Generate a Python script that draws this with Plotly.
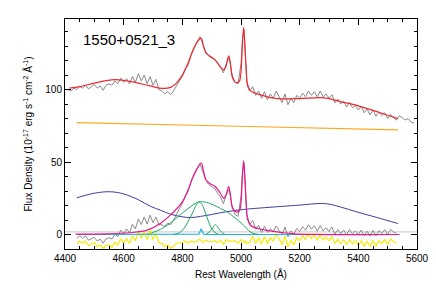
import plotly.graph_objects as go

# ---------------- data ----------------
# observed spectrum (upper panel)
data_wave = [4410,4420,4430,4440,4450,4460,4470,4480,4490,4500,4510,4520,4530,4540,4550,4560,4570,4580,4590,4600,
             4610,4620,4630,4640,4650,4660,4670,4680,4690,4700,4710,4720,4730,4740,4750,4760,4770,4780,4790,4800,
             4810,4820,4830,4840,4850,4860,4870,4880,4890,4900,4910,4920,4930,4940,4950,4960,4970,4980,4990,5000,
             5005,5010,5015,5020,5030,5040,5050,5060,5070,5080,5090,5100,5110,5120,5130,5140,5150,5160,5170,5180,
             5190,5200,5210,5220,5230,5240,5250,5260,5270,5280,5290,5300,5310,5320,5330,5340,5350,5360,5370,5380,
             5390,5400,5410,5420,5430,5440,5450,5460,5470,5480,5490,5500,5510,5520,5530,5540,5550,5560,5570,5580,5590]
data_flux = [100,99,101,100,102,101,103,100.5,102,103.5,101,102.5,99.5,103,104,103,106,104,108,105,
             107.5,104,109,105,111,106,110,104,109,103,107,100,99,97,98.5,96.5,99,103,106,109,
             114,117,124,128,133,136.5,131,126,123,122,121,118,116,111.5,118,122,110,105,104,118,
             135,141,122,106,99,102,96,99,94,98.5,93,97,94,99,95,91,97,89.5,94,91,
             96,94,97.5,95,99,96,98.5,95,99,95,97,94,96.5,91,93.5,90,92,88,91,87.5,
             89,86,88.5,84,86.5,82.5,86,81.5,84.5,82,84,80,83,80.5,79,82,80.5,79,80,77.5,77]

# total model (red)
model_wave = [4415,4450,4500,4570,4630,4690,4735,4760,4780,4800,4820,4840,4855,4864,4872,4880,4895,4915,4930,4940,
              4948,4953,4958,4963,4970,4978,4987,4995,5000,5004,5009,5014,5018,5022,5030,5045,5066,5100,5134,5200,
              5270,5300,5340,5400,5452,5500,5535]
model_flux = [101,102,104.5,106.8,105.3,102.5,100.8,101.5,104.5,110,118.5,129,134,135.5,130,125.5,123,119.8,115.5,113.6,
              115.5,120,123.3,119,109,105.5,104.8,106,112,128,143,128,112,103,99.5,97.8,96.3,94.5,93.6,93.8,
              94.5,93.8,91.7,88.8,85.5,82.3,80]

# power-law continuum (orange)
cont_wave = [4440, 4990, 5535]
cont_flux = [77.2, 74.7, 72.2]

# Fe II template (navy)
fe_wave = [4440,4500,4555,4600,4650,4691,4725,4760,4800,4830,4862,4900,4930,4970,5009,5060,5145,5200,5270,5300,5339,5395,5464,5535]
fe_flux = [25.3,28.5,29.5,28,24,19.5,16.8,14,12.2,11.7,12.5,13.8,15,16.3,17.3,18.2,19.5,20.3,21.4,21,19,15.6,11.7,7.6]

# continuum-subtracted spectrum (lower panel, gray)
line_wave = [4440,4450,4460,4470,4480,4490,4500,4510,4520,4530,4540,4550,4560,4570,4580,4590,4600,4610,4620,4630,
             4640,4650,4660,4670,4680,4690,4700,4710,4720,4730,4740,4750,4760,4770,4780,4790,4800,4810,4820,4830,
             4840,4850,4860,4870,4880,4890,4900,4910,4920,4930,4940,4950,4960,4970,4980,4990,5000,5005,5010,5015,
             5020,5030,5040,5050,5060,5070,5080,5090,5100,5110,5120,5130,5140,5150,5160,5170,5180,5190,5200,5210,
             5220,5230,5240,5250,5260,5270,5280,5290,5300,5310,5320,5330,5340,5350,5360,5370,5380,5390,5400,5410,
             5420,5430,5440,5450,5460,5470,5480,5490,5500,5510,5520,5530]
line_flux = [-2.5,-1.0,-2.5,-1.0,-3.9,-3.0,-1.9,-4.6,-3.2,-6.0,-3.0,-2.2,-3.1,0.3,-1.4,3.1,0.5,3.9,1.2,7.1,
             3.9,10.8,6.9,12.1,7.2,13.4,8.2,12.0,6.9,6.7,5.6,7.9,6.8,9.8,14.3,17.8,21.2,26.5,29.6,36.9,
             40.7,45.6,48.8,43.1,37.8,34.5,33.1,31.8,28.4,26.1,21.3,27.6,31.2,19.0,13.7,12.5,26.3,43.2,49.2,30.1,
             14.0,6.9,9.7,3.6,6.4,1.3,5.7,1.5,4.0,2.0,5.9,2.8,0.2,5.2,-1.5,2.5,0.3,4.2,2.1,5.4,
             2.9,6.7,3.6,6.0,2.3,6.2,2.4,4.7,2.1,5.2,0.2,3.4,0.4,3.1,-0.3,3.4,0.5,2.5,0.0,3.1,
             -0.8,2.3,-1.1,2.9,-0.9,2.6,0.8,3.4,0.0,3.6,1.7,0.7]

# emission-line model sum (magenta)
lines_wave = [4436,4550,4620,4680,4725,4760,4800,4820,4840,4855,4864,4872,4880,4895,4910,4930,4941,4950,4958,4964,
              4970,4980,4987,4995,5000,5004,5009,5014,5018,5022,5032,5060,5100,5134,5180,5250,5540]
lines_flux = [0.3,0.5,1.2,3,7.6,13.5,22.5,31,41.5,47,49.5,44,38,35,33.5,28.3,25,28,33,27,
              19,16,15.5,16.5,22,37,51,37,20,11,6.4,4,2.5,1.5,0.5,0.1,0]

# broad H-beta components (green)
hb_wide_wave = [4680,4700,4725,4760,4795,4830,4856,4880,4905,4930,4953,4975,5009,5032,5050,5070]
hb_wide_flux = [0.3,1.5,3.5,8,14,19.5,22.5,22.3,20.5,18,15.6,12.2,6.4,1.8,0.4,0]
hb_mid_wave = [4770,4790,4805,4820,4835,4848,4856,4866,4878,4890,4902,4915,4930]
hb_mid_flux = [0,1.2,4,9,15,20.5,22.5,21,15.5,8.5,3.5,0.8,0]
hb_small_wave = [4880,4895,4905,4913,4921,4931,4946]
hb_small_flux = [0,2.2,5,6.8,5,2.2,0]

# narrow H-beta plus zero level (cyan)
narrow_wave = [4440,4853,4856,4859,4862,4864,4866,4869,4872,4875,5540]
narrow_flux = [0,0,0.3,1.6,3.3,3.7,3.3,1.6,0.3,0,0]

# reference level (light gray)
level_wave = [4400, 5600]
level_flux = [1.8, 1.8]

# residuals, offset (yellow)
resid_wave = line_wave
resid_flux = [-6.2,-4.5,-6.1,-4.6,-7.6,-6.5,-5.5,-8.4,-7.3,-9.5,-7.6,-7.0,-8.8,-5.3,-7.2,-3.0,-5.8,-3.0,-6.1,-0.8,
              -4.4,2.0,-2.5,2.0,-3.5,3.2,-3.5,0.9,-5.7,-6.3,-8.4,-7.1,-9.5,-8.3,-6.0,-5.7,-5.5,-4.5,-6.0,-4.5,
              -5.5,-4.5,-3.2,-5.5,-4.0,-5.0,-5.0,-4.3,-5.5,-4.0,-6.8,-3.5,-4.5,-4.5,-4.5,-6.0,-3.5,-5.0,-5.5,-4.0,
              -6.5,-5.3,-1.0,-6.1,-2.2,-6.5,-1.4,-6.4,-2.0,-4.6,0.7,-3.1,-7.0,-1.0,-8.5,-4.1,-7.1,-2.2,-4.3,-0.9,
              -3.5,0.4,-2.7,-0.3,-3.9,0.0,-3.8,-1.6,-4.3,-1.3,-6.3,-3.2,-6.1,-3.6,-7.1,-3.5,-6.4,-4.4,-7.3,-4.1,
              -8.0,-4.8,-8.2,-4.1,-8.0,-4.3,-6.1,-3.5,-6.8,-3.2,-5.0,-5.9]

label_text = "1550+0521_3"
x_range = [4400, 5600]
y_range = [-10, 148.7]

# ---------------- figure ----------------
fig = go.Figure()

def add(x, y, color, width=1.0, shape="linear"):
    fig.add_trace(go.Scatter(x=x, y=y, mode="lines", line=dict(color=color, width=width, shape=shape),
                             hoverinfo="skip", showlegend=False))

add(level_wave, level_flux, "#c8c8c8", 1.0)
add(data_wave, data_flux, "#8a8a8a", 1.0)
add(model_wave, model_flux, "#ec2a32", 1.2, "spline")
add(cont_wave, cont_flux, "#ffa81e", 1.2, "spline")
add(line_wave, line_flux, "#8a8a8a", 1.0)
add(fe_wave, fe_flux, "#3d3d9e", 1.0, "spline")
add(hb_wide_wave, hb_wide_flux, "#20a860", 1.0, "spline")
add(hb_mid_wave, hb_mid_flux, "#20a860", 1.0, "spline")
add(hb_small_wave, hb_small_flux, "#20a860", 1.0, "spline")
add(resid_wave, resid_flux, "#f8ea00", 1.2)
add(narrow_wave, narrow_flux, "#1ab0e8", 1.2)
add(lines_wave, lines_flux, "#e8188c", 1.2, "spline")

fig.add_annotation(x=4453, y=134.4, xref="x", yref="y", text=label_text, showarrow=False,
                   xanchor="left", yanchor="middle", font=dict(size=15, color="black"))

axis_common = dict(showline=True, linecolor="black", linewidth=1, mirror="ticks", ticks="inside",
                   tickcolor="black", ticklen=6, tickwidth=1, showgrid=False, zeroline=False,
                   automargin=False, ticklabeloverflow="allow", tickfont=dict(size=10, color="black"))

fig.update_xaxes(range=x_range, dtick=200, tick0=4400,
                 minor=dict(ticks="inside", ticklen=3, dtick=50, tickcolor="black", showgrid=False),
                 title=dict(text="Rest Wavelength (Å)", font=dict(size=10, color="black"), standoff=7),
                 **axis_common)
fig.update_yaxes(range=y_range, dtick=50, tick0=0,
                 minor=dict(ticks="inside", ticklen=3, dtick=10, tickcolor="black", showgrid=False),
                 title=dict(text="Flux Density (10<sup>-17</sup> erg s<sup>-1</sup> cm<sup>-2</sup> Å<sup>-1</sup>)",
                            font=dict(size=10, color="black"), standoff=10),
                 **axis_common)

# the page body has an 8 px margin; the margins below are set so the plot box lands where it is in the reference
fig.update_layout(width=428, height=282, margin=dict(l=56.5, r=19.3, t=11.3, b=41.3, autoexpand=False),
                  paper_bgcolor="white", plot_bgcolor="white",
                  font=dict(family="Liberation Sans, Arial, sans-serif", color="black"))

fig.write_html("out.html")
